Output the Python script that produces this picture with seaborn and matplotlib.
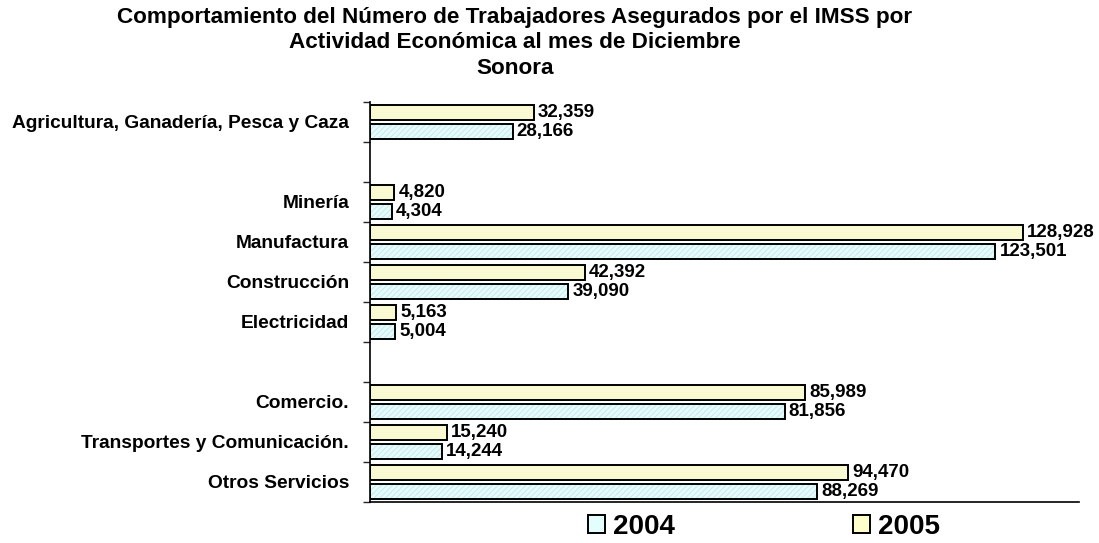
import numpy as np
import pandas as pd
import matplotlib
matplotlib.use('Agg')
import matplotlib.pyplot as plt
from matplotlib.patches import Patch, Rectangle
import seaborn as sns

# slots on the y axis; empty strings are the gaps in the original chart
sectors = ['Agricultura, Ganadería, Pesca y Caza', '', 'Minería', 'Manufactura',
           'Construcción', 'Electricidad', '', 'Comercio.',
           'Transportes y Comunicación.', 'Otros Servicios']
sector_names = [s for s in sectors if s]
v2004 = [28166, 4304, 123501, 39090, 5004, 81856, 14244, 88269]
v2005 = [32359, 4820, 128928, 42392, 5163, 85989, 15240, 94470]
years = ['2004', '2005']

df = pd.DataFrame({
    'Sector': sector_names * 2,
    'Year': ['2004'] * len(v2004) + ['2005'] * len(v2005),
    'Trabajadores': v2004 + v2005,
})

# unique placeholder names so seaborn keeps the empty slots
order = []
gap_n = 0
for s in sectors:
    if s:
        order.append(s)
    else:
        gap_n += 1
        order.append(' ' * gap_n)

sns.set_style('white')
plt.rcParams['font.family'] = ['Liberation Sans', 'DejaVu Sans']
plt.rcParams['font.weight'] = 'bold'
plt.rcParams['text.color'] = 'black'
plt.rcParams['hatch.linewidth'] = 0.6

c2004 = '#E4FEFE'
c2005 = '#FFFFCC'
hatch_col = '#BDE8EE'

fig = plt.figure(figsize=(10.99, 5.43), dpi=100)
ax = fig.add_axes([370 / 1099, 1 - 502 / 543, 709 / 1099, 400 / 543])

sns.barplot(data=df, y='Sector', x='Trabajadores', hue='Year', order=order,
            hue_order=['2005', '2004'], palette={'2004': c2004, '2005': c2005},
            orient='h', width=0.94, gap=0.16, edgecolor='black', linewidth=1.4,
            legend=False, ax=ax)

# light diagonal hatch on 2004 bars: hatch takes the edge colour, so
# put a black outline copy on top of each bar
for bar in ax.containers[1]:
    bar.set_hatch('//////')
    bar.set_edgecolor(hatch_col)
    ax.add_patch(Rectangle(bar.get_xy(), bar.get_width(), bar.get_height(),
                           fill=False, edgecolor='black', linewidth=1.4, zorder=bar.get_zorder() + 0.1))

for cont in ax.containers:
    ax.bar_label(cont, fmt='{:,.0f}', padding=3, fontsize=13.5, fontweight='bold', color='black')

ax.set_xlim(0, 140000)
ax.set_xticks(np.arange(0, 140001, 20000))
ax.set_xticklabels([])
ax.tick_params(axis='x', direction='out', length=5, width=1, color='#555555')

ax.set_yticks(range(len(sectors)))
ax.set_yticklabels(sectors, fontsize=13.8, fontweight='bold', color='black')
ax.set_yticks(np.arange(-0.5, len(sectors), 1), minor=True)
ax.tick_params(axis='y', which='major', length=0, pad=15)
ax.tick_params(axis='y', which='minor', direction='out', length=5, width=1, left=True)
ax.set_ylim(len(sectors) - 0.5, -0.5)

ax.set_xlabel('')
ax.set_ylabel('')
for side in ['top', 'right']:
    ax.spines[side].set_visible(False)
for side in ['left', 'bottom']:
    ax.spines[side].set_color('black')
    ax.spines[side].set_linewidth(1.2)

fig.text(515 / 1099, 1 - 17 / 543, 'Comportamiento del Número de Trabajadores Asegurados por el IMSS por',
         ha='center', va='center', fontsize=16.2, fontweight='bold')
fig.text(515 / 1099, 1 - 43 / 543, 'Actividad Económica al mes de Diciembre',
         ha='center', va='center', fontsize=16.2, fontweight='bold')
fig.text(515 / 1099, 1 - 69 / 543, 'Sonora',
         ha='center', va='center', fontsize=16.2, fontweight='bold')

handles = [Patch(facecolor=c2004, edgecolor='black', linewidth=1.4),
           Patch(facecolor=c2005, edgecolor='black', linewidth=1.4)]
fig.legend(handles, years, loc='center', bbox_to_anchor=(764 / 1099, 1 - 527 / 543),
           ncol=2, frameon=False, prop={'size': 20, 'weight': 'bold'},
           handlelength=0.62, handleheight=0.62, handletextpad=0.3, columnspacing=6.4)

fig.savefig('out.png', dpi=100)
